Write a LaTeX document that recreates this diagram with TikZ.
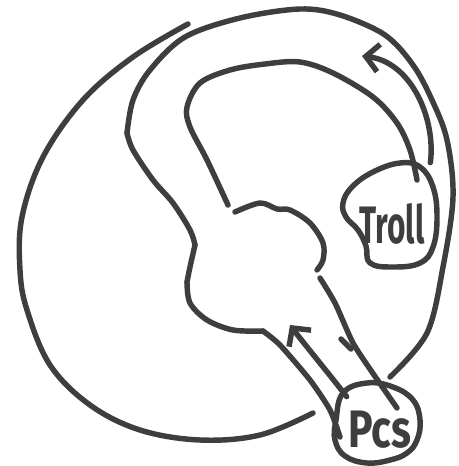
\documentclass[tikz,border=0pt]{standalone}
\usepackage{fontspec}
\setsansfont{Fira Sans}
\usepackage{xcolor}
\usepackage{tikz}
\usetikzlibrary{arrows.meta}

\definecolor{ink}{HTML}{3D3E40}

\begin{document}
\begin{tikzpicture}[x=0.02cm, y=-0.02cm,
  wall/.style  = {draw=ink, line width=3.1pt, line cap=round, line join=round},
  blob/.style  = {wall},
  mover/.style = {wall, -{Straight Barb[length=0.26cm, width=0.55cm, line width=3.1pt]}},
  place/.style = {inner sep=0pt, text=ink, font=\sffamily\bfseries\fontsize{30}{30}\selectfont}
]
  \useasboundingbox (0,0) rectangle (459,466);

  \node[place, minimum width=1.52cm, minimum height=2.44cm] (troll) at (392,224)
      {\scalebox{0.6}[1]{Troll}};
  \node[place, minimum width=1.32cm, minimum height=1.32cm] (pcs) at (380,430)
      {\scalebox{0.78}[1]{Pcs}};
  \coordinate (hub)  at (290,325);
  \coordinate (nook) at (362,56);

  %% outer sweep on the left
  \draw[wall] plot[smooth, tension=0.6] coordinates {(188,24) (133,57) (83,100) (43,157)
      (22,217) (20,270) (27,310) (50,365) (90,405) (140,430) (200,440) (260,435) (313,413)};

  %% outer corridor wall, round the top and into the chamber
  \draw[wall] plot[smooth, tension=0.55] coordinates {(390,377) (427,333) (443,267) (453,197)
      (447,140) (432,100) (413,65) (385,35) (340,15) (300,9) (240,18) (185,37) (150,70)
      (133,100) (127,133)};
  \draw[wall] plot[smooth, tension=0.55] coordinates {(127,133) (133,150) (153,180) (173,203)
      (190,230) (195,245)};
  \draw[wall] plot[smooth, tension=0.55] coordinates {(195,245) (190,267) (187,282)};
  \draw[wall] plot[smooth, tension=0.55] coordinates {(187,282) (190,303) (207,320)
      (233,330) (263,331)};
  \draw[wall] plot[smooth, tension=0.4] coordinates {(263,331) (280,345) (310,380)
      (330,410) (340,437)};

  %% inner corridor wall
  \draw[wall] plot[smooth, tension=0.55] coordinates {(228,205) (207,160) (190,127)
      (187,107) (200,83) (230,70) (265,64) (300,62) (333,73) (373,97) (397,123) (410,150)
      (417,180)};

  %% chamber and passage to the Pcs
  \draw[wall] plot[smooth, tension=0.55] coordinates {(235,212) (260,203) (277,209)
      (290,210) (310,223) (323,243) (323,260) (317,270)};
  \draw[wall] plot[smooth, tension=0.4] coordinates {(320,278) (335,303) (353,343)
      (372,372) (397,408)};
  \draw[wall] (341,339) -- (351,349);

  %% blobs
  \draw[blob] plot[smooth cycle, tension=0.7] coordinates {(373,172) (400,163) (420,167)
      (433,187) (437,217) (433,247) (420,263) (393,267) (370,263) (366,246) (358,230)
      (346,217) (343,203) (352,187)};
  \draw[blob] plot[smooth cycle, tension=0.7] coordinates {(343,393) (367,383) (393,387)
      (413,400) (420,420) (417,440) (407,453) (390,460) (367,463) (345,456) (335,440)
      (336,420)};

  %% movements
  \draw[mover] (pcs.north west) .. controls (330,375) and (305,345) .. (hub);
  \draw[mover] (troll.north east) .. controls (436,120) and (412,62) .. (nook);
\end{tikzpicture}
\end{document}
